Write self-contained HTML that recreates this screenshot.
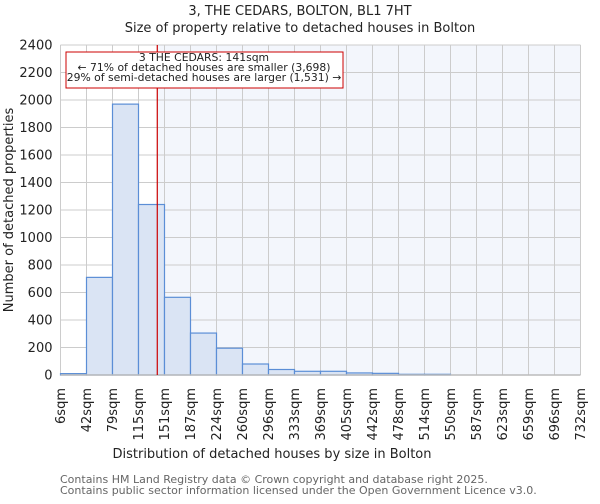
<!DOCTYPE html>
<html><head><meta charset="utf-8"><style>
body{margin:0;background:#fff;font-family:"DejaVu Sans","Liberation Sans",sans-serif}
svg text{font-family:"DejaVu Sans","Liberation Sans",sans-serif}
</style></head><body>
<svg id="chart" width="600" height="500" viewBox="0 0 600 500">
<text x="300" y="15" text-anchor="middle" font-size="13" fill="#222">3, THE CEDARS, BOLTON, BL1 7HT</text>
<text x="300" y="32" text-anchor="middle" font-size="13" fill="#222">Size of property relative to detached houses in Bolton</text>
<g id="plot"></g>
<text x="272" y="458" text-anchor="middle" font-size="13" fill="#222">Distribution of detached houses by size in Bolton</text>
<text transform="translate(13,210) rotate(-90)" text-anchor="middle" font-size="13" fill="#222">Number of detached properties</text>
<text x="60" y="483" font-size="11" fill="#666">Contains HM Land Registry data © Crown copyright and database right 2025.</text>
<text x="60" y="494" font-size="11" fill="#666">Contains public sector information licensed under the Open Government Licence v3.0.</text>
</svg>
<script>
const binLabels=["6sqm","42sqm","79sqm","115sqm","151sqm","187sqm","224sqm","260sqm","296sqm","333sqm","369sqm","405sqm","442sqm","478sqm","514sqm","550sqm","587sqm","623sqm","659sqm","696sqm","732sqm"];
const binEdges=[6,42,79,115,151,187,224,260,296,333,369,405,442,478,514,550,587,623,659,696,732];
const counts=[10,710,1970,1240,565,305,195,80,40,27,27,15,12,5,5,0,0,0,0,0];
const yTicks=[0,200,400,600,800,1000,1200,1400,1600,1800,2000,2200,2400];
const propertySize=141;
const X0=60.5,BW=26,Y0=375,YT=45,YMAX=2400;
const NS="http://www.w3.org/2000/svg";
const g=document.getElementById('plot');
function xi(i){return X0+i*BW;}
function xv(v){for(let i=0;i<binEdges.length-1;i++){if(v<=binEdges[i+1])return xi(i)+(v-binEdges[i])/(binEdges[i+1]-binEdges[i])*BW;}return xi(binEdges.length-1);}
function y(v){return Y0-(v/YMAX)*(Y0-YT);}
function mk(t,a){const e=document.createElementNS(NS,t);for(const k in a)e.setAttribute(k,a[k]);g.appendChild(e);return e;}
const nb=counts.length, XR=xi(nb);
const rx=xv(propertySize);
let e=mk('rect',{x:rx,y:YT,width:XR-rx,height:Y0-YT,fill:'#f3f6fc'});


for(let i=0;i<=nb;i++){e=mk('line',{x1:xi(i),x2:xi(i),y1:YT,y2:Y0,stroke:'#ccc','stroke-width':1});

}
yTicks.forEach(t=>{e=mk('line',{x1:X0,x2:XR,y1:y(t),y2:y(t),stroke:'#ccc','stroke-width':1});


e=mk('text',{x:X0-8,y:y(t)+4.5,'text-anchor':'end','font-size':13,fill:'#222'});e.textContent=t;

});
counts.forEach((c,i)=>{if(c<=0)return;e=mk('rect',{x:xi(i),y:y(c),width:BW,height:Y0-y(c),fill:'#dae4f4',stroke:'#5b8ed6','stroke-width':1.2});

});
e=mk('line',{x1:X0,x2:XR,y1:Y0,y2:Y0,stroke:'#bbb','stroke-width':1.5});


binLabels.forEach((l,i)=>{e=mk('text',{transform:`translate(${xi(i)+4.5},388) rotate(-90)`,'text-anchor':'end','font-size':13,fill:'#222'});e.textContent=l;

});
e=mk('line',{x1:rx,x2:rx,y1:YT,y2:Y0,stroke:'#c00','stroke-width':1.2});


e=mk('rect',{x:66,y:52,width:277,height:36,fill:'#fff',stroke:'#c00','stroke-width':1});


["3 THE CEDARS: 141sqm","← 71% of detached houses are smaller (3,698)","29% of semi-detached houses are larger (1,531) →"].forEach((t,i)=>{e=mk('text',{x:204,y:61+i*10,'text-anchor':'middle','font-size':10.8,fill:'#222'});e.textContent=t;

});
</script>
</body></html>
